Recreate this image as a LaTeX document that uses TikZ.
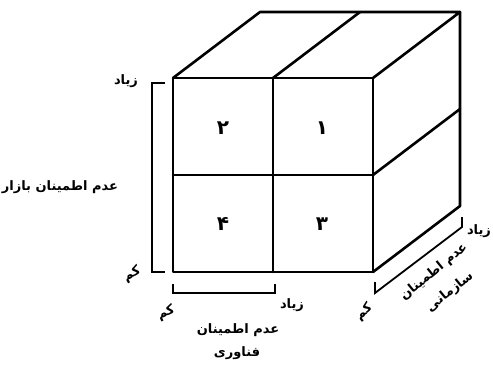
\documentclass[tikz,border=0pt]{standalone}
\usepackage{fontspec}
\TeXXeTstate=1
\newfontfamily\arabicfont[Script=Arabic]{DejaVu Sans}
\begin{document}
\begin{tikzpicture}[x=1pt,y=-1pt,
  cube/.style={line width=2.6pt, line join=round, line cap=round},
  brk/.style={line width=1.8pt},
  lab/.style={font=\arabicfont\bfseries\fontsize{13}{15}\selectfont, inner sep=0.5pt},
  num/.style={font=\arabicfont\bfseries\fontsize{20}{22}\selectfont, inner sep=1pt}]
\useasboundingbox (0,0) rectangle (493,368);
% front face
\coordinate (A) at (173,78);
\coordinate (B) at (373,78);
\coordinate (C) at (373,272);
\coordinate (D) at (173,272);
\coordinate (M1) at (273,78);
\coordinate (M2) at (273,272);
\coordinate (L1) at (173,175);
\coordinate (R1) at (373,175);
% back
\coordinate (BA) at (260,12);
\coordinate (BM) at (360,12);
\coordinate (BB) at (460,12);
\coordinate (BC) at (460,206);
\coordinate (BR) at (460,109);
\draw[cube] (A) -- (B) -- (C) -- (D) -- cycle;
\draw[cube] (M1) -- (M2);
\draw[cube] (L1) -- (R1);
\draw[cube] (A) -- (BA) -- (BB) -- (B);
\draw[cube] (M1) -- (BM);
\draw[cube] (BB) -- (BC) -- (C);
\draw[cube] (R1) -- (BR);
% numbers
\node[num] (n2) at (223,128) {\beginR ۲\endR};
\node[num] (n1) at (322,128) {\beginR ۱\endR};
\node[num] (n4) at (223,224) {\beginR ۴\endR};
\node[num] (n3) at (322,224) {\beginR ۳\endR};
% left bracket
\coordinate (lb1) at (165,83);
\coordinate (lb2) at (152,83);
\coordinate (lb3) at (152,272);
\coordinate (lb4) at (165,272);
\draw[brk] (lb1) -- (lb2) -- (lb3) -- (lb4);
\node[lab] (lhi) at (126,81) {\beginR زیاد\endR};
\node[lab, rotate=30] (llo) at (132,274) {\beginR کم\endR};
\node[lab] (lname) at (60,187) {\beginR عدم اطمینان بازار\endR};
% bottom bracket
\coordinate (bb1) at (173,284);
\coordinate (bb2) at (173,293);
\coordinate (bb3) at (275,293);
\coordinate (bb4) at (275,284);
\draw[brk] (bb1) -- (bb2) -- (bb3) -- (bb4);
\node[lab, rotate=25] (blo) at (166,313) {\beginR کم\endR};
\node[lab] (bhi) at (292,305) {\beginR زیاد\endR};
\node[lab] (bname1) at (238,330) {\beginR عدم اطمینان\endR};
\node[lab] (bname2) at (237,353) {\beginR فناوری\endR};
% right bracket
\coordinate (rb1) at (375,282);
\coordinate (rb2) at (375,293);
\coordinate (rb3) at (462,227);
\coordinate (rb4) at (462,217);
\draw[brk] (rb1) -- (rb2) -- (rb3) -- (rb4);
\node[lab, rotate=40] (rlo) at (364,312) {\beginR کم\endR};
\node[lab] (rhi) at (479,231) {\beginR زیاد\endR};
\node[lab, rotate=39] (rname1) at (434,272) {\beginR عدم اطمینان\endR};
\node[lab, rotate=39] (rname2) at (450,292) {\beginR سازمانی\endR};
\end{tikzpicture}
\end{document}
